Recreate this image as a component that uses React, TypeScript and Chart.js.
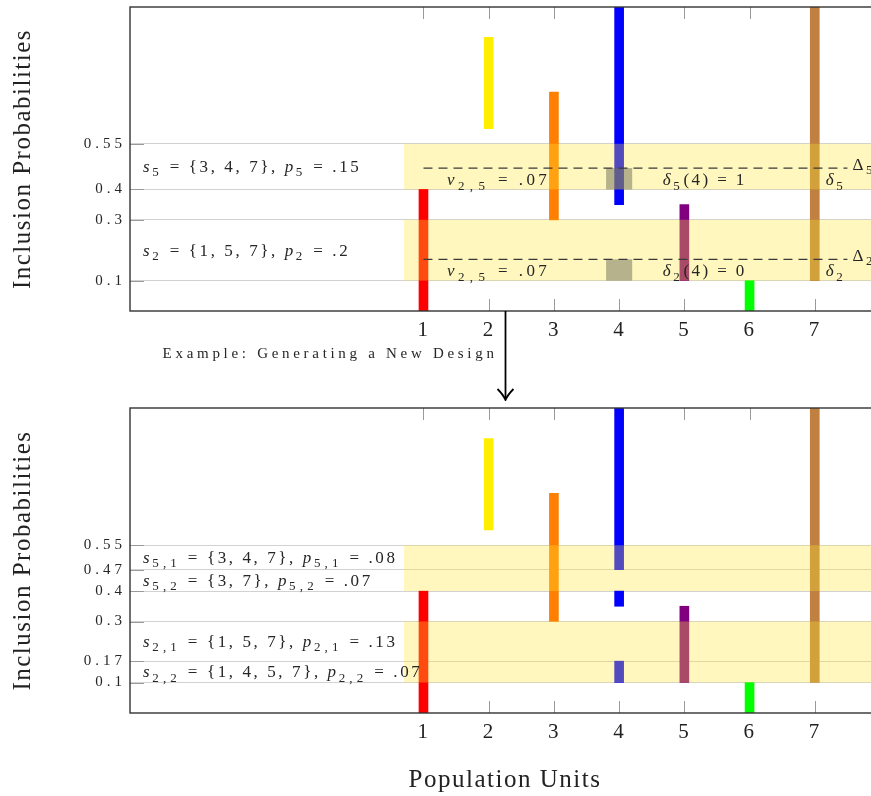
import React, { useEffect, useRef } from 'react';
import { Chart, registerables } from 'chart.js';

Chart.register(...registerables);

const SERIF = '"Liberation Serif", "DejaVu Serif", serif';

// Population units (x categories) and their colours
const units = [1, 2, 3, 4, 5, 6, 7];
const unitColors = ['#ff0000', '#ffee00', '#ff8000', '#0000ff', '#800080', '#00ff00', '#bf8040'];

// Inclusion-probability intervals of each unit, original design (top)
const topLow = [0, 0.6, 0.3, 0.35, 0.1, 0, 0.1];
const topHigh = [0.4, 0.9, 0.72, 1.0, 0.35, 0.1, 1.0];

// New design (bottom): unit 4 is split into several pieces
const bottomLow = [0, 0.6, 0.3, null, 0.1, 0, 0.1];
const bottomHigh = [0.4, 0.9, 0.72, null, 0.35, 0.1, 1.0];
const splitUnit = 4;
const splitLow = [0.47, 0.35, 0.1];
const splitHigh = [1.0, 0.4, 0.17];

// y tick values
const topYTicks = [0.1, 0.3, 0.4, 0.55];
const bottomYTicks = [0.1, 0.17, 0.3, 0.4, 0.47, 0.55];

// highlighted samples (bands)
const bandLow = [0.4, 0.1];
const bandHigh = [0.55, 0.3];
const bandFromX = 0.7;

// v_{2,5} windows and Δ lines (top only)
const vBoxUnit = 4;
const vBoxHalf = 0.2;
const vBoxLow = [0.4, 0.1];
const vBoxHigh = [0.47, 0.17];
const deltaLineY = [0.47, 0.17];
const deltaLineFrom = 1;
const deltaLineTo = 7.5;

type Seg = [string, string];

const topSetLabels: Seg[][] = [
  [['s', 'i'], ['5', 's'], [' = {3, 4, 7}, ', ''], ['p', 'i'], ['5', 's'], [' = .15', '']],
  [['s', 'i'], ['2', 's'], [' = {1, 5, 7}, ', ''], ['p', 'i'], ['2', 's'], [' = .2', '']],
];
const topSetLabelY = [0.475, 0.2];

const bottomSetLabels: Seg[][] = [
  [['s', 'i'], ['5,1', 's'], [' = {3, 4, 7}, ', ''], ['p', 'i'], ['5,1', 's'], [' = .08', '']],
  [['s', 'i'], ['5,2', 's'], [' = {3, 7}, ', ''], ['p', 'i'], ['5,2', 's'], [' = .07', '']],
  [['s', 'i'], ['2,1', 's'], [' = {1, 5, 7}, ', ''], ['p', 'i'], ['2,1', 's'], [' = .13', '']],
  [['s', 'i'], ['2,2', 's'], [' = {1, 4, 5, 7}, ', ''], ['p', 'i'], ['2,2', 's'], [' = .07', '']],
];
const bottomSetLabelY = [0.51, 0.435, 0.235, 0.135];
const setLabelX = -3.3;

const vLabels: Seg[][] = [
  [['v', 'i'], ['2,5', 's'], [' = .07', '']],
  [['v', 'i'], ['2,5', 's'], [' = .07', '']],
];
const deltaLabels: Seg[][] = [
  [['δ', 'i'], ['5', 's'], ['(4) = 1', '']],
  [['δ', 'i'], ['2', 's'], ['(4) = 0', '']],
];
const deltaShortLabels: Seg[][] = [
  [['δ', 'i'], ['5', 's']],
  [['δ', 'i'], ['2', 's']],
];
const bigDeltaLabels: Seg[][] = [
  [['Δ', ''], ['5', 's']],
  [['Δ', ''], ['2', 's']],
];
const innerLabelY = [0.432, 0.132];
const vLabelX = 1.36;
const deltaLabelX = 4.67;
const deltaShortX = 7.17;
const bigDeltaX = 7.58;

const exampleText = 'Example: Generating a New Design';
const exampleX = -3.0;
const arrowX = 2.25;

function drawRich(ctx: any, segs: Seg[], x: number, y: number, size: number, ls: number, color: string) {
  ctx.save();
  ctx.fillStyle = color;
  ctx.textAlign = 'left';
  ctx.textBaseline = 'alphabetic';
  let cx = x;
  const base = y + size * 0.33;
  for (const [t, k] of segs) {
    const sub = k === 's';
    const fs = sub ? Math.round(size * 0.74) : size;
    ctx.font = `${k === 'i' ? 'italic ' : ''}${fs}px ${SERIF}`;
    ctx.letterSpacing = `${sub ? ls * 1.6 : ls}px`;
    ctx.fillText(t, cx, sub ? base + size * 0.25 : base);
    cx += ctx.measureText(t).width;
  }
  ctx.restore();
}

function annotationPlugin(isTop: boolean) {
  const yTicks = isTop ? topYTicks : bottomYTicks;
  return {
    id: 'figureAnnotations',
    beforeDraw(chart: any) {
      chart.ctx.letterSpacing = '1.5px';
    },
    beforeDatasetsDraw(chart: any) {
      const { ctx, chartArea: a } = chart;
      const X = (v: number) => chart.scales.x.getPixelForValue(v);
      const Y = (v: number) => chart.scales.y.getPixelForValue(v);
      ctx.save();
      ctx.strokeStyle = '#9a9a9a';
      ctx.lineWidth = 1;
      units.forEach((u) => {
        const px = Math.round(X(u)) + 0.5;
        ctx.beginPath();
        ctx.moveTo(px, a.top);
        ctx.lineTo(px, a.top + 12);
        ctx.moveTo(px, a.bottom);
        ctx.lineTo(px, a.bottom - 12);
        ctx.stroke();
      });
      yTicks.forEach((v) => {
        const py = Math.round(Y(v)) + 0.5;
        ctx.beginPath();
        ctx.moveTo(a.left, py);
        ctx.lineTo(a.left + 14, py);
        ctx.stroke();
      });
      ctx.restore();
    },
    afterDatasetsDraw(chart: any) {
      const { ctx, chartArea: a } = chart;
      const X = (v: number) => chart.scales.x.getPixelForValue(v);
      const Y = (v: number) => chart.scales.y.getPixelForValue(v);
      ctx.save();
      ctx.beginPath();
      ctx.rect(a.left, a.top, a.right - a.left, a.bottom - a.top);
      ctx.clip();
      // highlighted sample bands
      ctx.fillStyle = 'rgba(255, 230, 50, 0.32)';
      bandLow.forEach((lo, i) => {
        const x0 = X(bandFromX);
        const y0 = Y(bandHigh[i]);
        ctx.fillRect(x0, y0, a.right - x0, Y(lo) - y0);
      });
      if (isTop) {
        ctx.fillStyle = 'rgba(110, 110, 90, 0.5)';
        vBoxLow.forEach((lo, i) => {
          const x0 = X(vBoxUnit - vBoxHalf);
          const x1 = X(vBoxUnit + vBoxHalf);
          const y0 = Y(vBoxHigh[i]);
          ctx.fillRect(x0, y0, x1 - x0, Y(lo) - y0);
        });
        ctx.setLineDash([9, 6]);
        ctx.strokeStyle = '#3a3a3a';
        ctx.lineWidth = 1.3;
        deltaLineY.forEach((v) => {
          ctx.beginPath();
          ctx.moveTo(X(deltaLineFrom), Y(v));
          ctx.lineTo(X(deltaLineTo), Y(v));
          ctx.stroke();
        });
        ctx.setLineDash([]);
        innerLabelY.forEach((v, i) => {
          drawRich(ctx, vLabels[i], X(vLabelX), Y(v), 17, 3.4, '#262626');
          drawRich(ctx, deltaLabels[i], X(deltaLabelX), Y(v), 17, 2.4, '#262626');
          drawRich(ctx, deltaShortLabels[i], X(deltaShortX), Y(v), 17, 2.4, '#262626');
          drawRich(ctx, bigDeltaLabels[i], X(bigDeltaX), Y(deltaLineY[i]) - 4, 17, 2.4, '#262626');
        });
      }
      const labels = isTop ? topSetLabels : bottomSetLabels;
      const labelY = isTop ? topSetLabelY : bottomSetLabelY;
      labels.forEach((segs, i) => drawRich(ctx, segs, X(setLabelX), Y(labelY[i]), 17, 2.6, '#262626'));
      ctx.restore();
      // frame
      ctx.save();
      ctx.strokeStyle = '#333';
      ctx.lineWidth = 1.4;
      ctx.strokeRect(a.left, a.top, a.right - a.left, a.bottom - a.top);
      ctx.restore();
      // y tick labels (drawn after this hook) are letter-spaced
      ctx.letterSpacing = '4px';
    },
    afterDraw(chart: any) {
      const { ctx, chartArea: a } = chart;
      if (isTop) {
        const X = (v: number) => chart.scales.x.getPixelForValue(v);
        const px = Math.round(X(arrowX)) + 0.5;
        const tip = a.bottom + 89;
        ctx.save();
        ctx.strokeStyle = '#000';
        ctx.lineWidth = 1.8;
        ctx.beginPath();
        ctx.moveTo(px, a.bottom);
        ctx.lineTo(px, tip - 1);
        ctx.stroke();
        ctx.beginPath();
        ctx.moveTo(px - 8, tip - 11);
        ctx.quadraticCurveTo(px - 2, tip - 5, px, tip);
        ctx.quadraticCurveTo(px + 2, tip - 5, px + 8, tip - 11);
        ctx.stroke();
        ctx.fillStyle = '#262626';
        ctx.font = `15px ${SERIF}`;
        ctx.letterSpacing = '3.7px';
        ctx.textAlign = 'left';
        ctx.textBaseline = 'alphabetic';
        ctx.fillText(exampleText, X(exampleX), a.bottom + 47);
        ctx.restore();
      }
      ctx.letterSpacing = '0px';
    },
  };
}

function buildConfig(isTop: boolean, xHeight: number, padTop: number): any {
  const low = isTop ? topLow : bottomLow;
  const high = isTop ? topHigh : bottomHigh;
  const idx = units.map((_, i) => i).filter((i) => low[i] != null);
  const datasets: any[] = [
    {
      data: idx.map((i) => ({ x: units[i], y: [low[i], high[i]] })),
      backgroundColor: idx.map((i) => unitColors[i]),
    },
  ];
  if (!isTop) {
    datasets.push({
      data: splitLow.map((lo, j) => ({ x: splitUnit, y: [lo, splitHigh[j]] })),
      backgroundColor: unitColors[splitUnit - 1],
    });
  }
  const yTicks = isTop ? topYTicks : bottomYTicks;
  return {
    type: 'bar',
    data: { datasets },
    options: {
      animation: false,
      responsive: false,
      maintainAspectRatio: false,
      devicePixelRatio: 1,
      layout: { padding: { top: padTop, left: 0, right: 0, bottom: 0 } },
      plugins: { legend: { display: false }, tooltip: { enabled: false } },
      datasets: { bar: { barThickness: 9, grouped: false, borderWidth: 0, borderSkipped: false } },
      scales: {
        x: {
          type: 'linear',
          min: -3.5,
          max: 8,
          offset: false,
          afterBuildTicks: (s: any) => {
            s.ticks = units.map((v) => ({ value: v }));
          },
          afterFit: (s: any) => {
            s.height = xHeight;
            s.paddingLeft = 0;
            s.paddingRight = 0;
          },
          grid: { display: false, drawTicks: false, offset: false },
          border: { display: false },
          ticks: {
            padding: 7,
            color: '#222',
            font: { family: SERIF, size: 21 },
            maxRotation: 0,
            autoSkip: false,
            callback: (v: any) => String(v),
          },
          title: isTop
            ? { display: false }
            : {
                display: true,
                text: 'Population Units',
                color: '#222',
                font: { family: SERIF, size: 25 },
                padding: { top: 0, bottom: 1 },
              },
        },
        y: {
          type: 'linear',
          min: 0,
          max: 1,
          afterBuildTicks: (s: any) => {
            s.ticks = yTicks.map((v) => ({ value: v }));
          },
          afterFit: (s: any) => {
            s.width = 130;
            s.paddingTop = 0;
            s.paddingBottom = 0;
          },
          grid: { color: '#d2d2d2', lineWidth: 1, drawTicks: false },
          border: { display: false },
          ticks: {
            z: 1,
            padding: 4,
            color: '#262626',
            font: { family: SERIF, size: 15, lineHeight: 1 },
            autoSkip: false,
            callback: (v: any) => String(v),
          },
          title: {
            display: true,
            text: 'Inclusion Probabilities',
            color: '#222',
            font: { family: SERIF, size: 25 },
            padding: { top: 8, bottom: 0 },
          },
        },
      },
    },
    plugins: [annotationPlugin(isTop)],
  };
}

function Panel({ isTop }: { isTop: boolean }) {
  const ref = useRef<HTMLCanvasElement>(null);
  const h = isTop ? 401 : 395;
  useEffect(() => {
    const canvas = ref.current;
    if (!canvas) return;
    const chart = new Chart(canvas, buildConfig(isTop, isTop ? 90 : 83, 7));
    return () => chart.destroy();
  }, [isTop]);
  return (
    <canvas
      ref={ref}
      width={880}
      height={h}
      style={{ position: 'absolute', left: 0, top: isTop ? 0 : 401, width: 880, height: h, display: 'block' }}
    />
  );
}

export default function App() {
  return (
    <div
      style={{
        position: 'fixed',
        left: 0,
        top: 0,
        width: 871,
        height: 796,
        overflow: 'hidden',
        background: '#fff',
      }}
    >
      <Panel isTop={true} />
      <Panel isTop={false} />
    </div>
  );
}
